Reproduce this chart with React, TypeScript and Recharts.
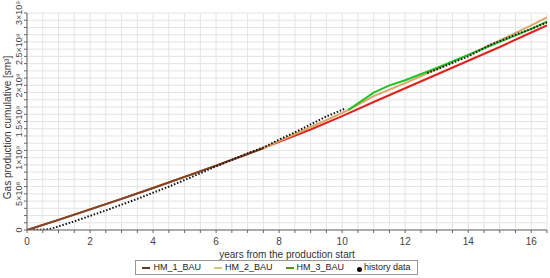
import { LineChart, Line, XAxis, YAxis, CartesianGrid, Legend } from 'recharts'

// reference run (red, drawn under HM_1)
const refYears = [0, 1, 2, 3, 4, 5, 6, 7, 8, 9, 10, 11, 12, 13, 14, 15, 16, 16.5]
const refValues = [0, 1.4e8, 2.85e8, 4.3e8, 5.8e8, 7.35e8, 8.9e8, 1.05e9, 1.22e9, 1.39e9, 1.575e9, 1.77e9, 1.96e9, 2.15e9, 2.34e9, 2.53e9, 2.73e9, 2.83e9]

const hm1Years = [0, 1, 2, 3, 4, 5, 6, 7, 7.5]
const hm1Values = [0, 1.4e8, 2.85e8, 4.3e8, 5.8e8, 7.35e8, 8.9e8, 1.05e9, 1.13e9]

const hm2Years = [7.5, 8, 9, 10, 10.2, 11, 12, 13, 14, 15, 16, 16.5]
const hm2Values = [1.13e9, 1.23e9, 1.42e9, 1.62e9, 1.66e9, 1.85e9, 2.03e9, 2.22e9, 2.42e9, 2.62e9, 2.83e9, 2.94e9]

const hm3Years = [10.2, 11, 11.5, 12, 13, 14, 15, 16, 16.5]
const hm3Values = [1.66e9, 1.9e9, 2.0e9, 2.07e9, 2.24e9, 2.42e9, 2.6e9, 2.78e9, 2.88e9]

const histYearsA = [0.2, 0.5, 0.7, 1, 1.5, 2, 2.5, 3, 3.5, 4, 4.5, 5, 5.5, 6, 6.5, 7, 7.5, 8, 8.5, 9, 9.5, 10, 10.1]
const histValuesA = [0, 0.05e8, 0.1e8, 0.5e8, 1.2e8, 1.95e8, 2.7e8, 3.5e8, 4.3e8, 5.15e8, 6.0e8, 6.9e8, 7.85e8, 8.8e8, 9.7e8, 1.06e9, 1.14e9, 1.25e9, 1.35e9, 1.46e9, 1.57e9, 1.66e9, 1.68e9]
const histYearsB = [12.7, 13, 13.5, 14, 14.7, 15, 15.5, 16, 16.5]
const histValuesB = [2.17e9, 2.22e9, 2.31e9, 2.4e9, 2.56e9, 2.61e9, 2.7e9, 2.78e9, 2.87e9]

const xLabels = [0, 2, 4, 6, 8, 10, 12, 14, 16]
const yLabels: Record<number, string> = {
  0: '0',
  500000000: '5×10⁸',
  1000000000: '1×10⁹',
  1500000000: '1.5×10⁹',
  2000000000: '2×10⁹',
  2500000000: '2.5×10⁹',
  3000000000: '3×10⁹',
}

const legendItems = [
  { name: 'HM_1_BAU', color: '#5b3a1c', dot: false },
  { name: 'HM_2_BAU', color: '#c9c77a', dot: false },
  { name: 'HM_3_BAU', color: '#4e9a1e', dot: false },
  { name: 'history data', color: '#000', dot: true },
]

const toPoints = (xs: number[], vs: number[]) => xs.map((t, i) => ({ t, v: vs[i] }))

const xGrid = Array.from({ length: 34 }, (_, i) => i * 0.5)
const yGrid = Array.from({ length: 31 }, (_, i) => i * 1e8)

const font = '"Liberation Sans", Arial, sans-serif'

function YTick({ x, y, payload }: any) {
  const label = yLabels[payload.value]
  if (!label) return null
  return (
    <text x={x} y={y} transform={`rotate(-90 ${x} ${y})`} textAnchor="middle" fontSize={9} fill="#444" fontFamily={font}>
      {label}
    </text>
  )
}

function XTick({ x, y, payload }: any) {
  if (!xLabels.includes(payload.value)) return null
  return (
    <text x={x} y={y + 10} textAnchor="middle" fontSize={10} fill="#444" fontFamily={font}>
      {payload.value}
    </text>
  )
}

function LegendBox() {
  return (
    <div style={{ display: 'flex', justifyContent: 'center' }}>
      <div style={{ display: 'flex', gap: 13, border: '1px solid #999', padding: '1px 6px', fontSize: 9, fontFamily: font, color: '#222', lineHeight: '11px', marginLeft: 6, marginTop: 2 }}>
        {legendItems.map((it) => (
          <span key={it.name} style={{ display: 'flex', alignItems: 'center' }}>
            {it.dot ? (
              <span style={{ width: 5, height: 5, borderRadius: 3, background: it.color, marginRight: 2, marginTop: 3 }} />
            ) : (
              <span style={{ width: 8, height: 2, background: it.color, marginRight: 3 }} />
            )}
            {it.name}
          </span>
        ))}
      </div>
    </div>
  )
}

export default function App() {
  return (
    <div style={{ position: 'absolute', left: 0, top: 0, background: '#fff' }}>
      <LineChart width={550} height={278} margin={{ top: 13, right: 3, left: 0, bottom: 0 }}>
        <CartesianGrid stroke="#e4e4e4" verticalValues={xGrid} horizontalValues={yGrid} />
        <XAxis
          type="number"
          dataKey="t"
          domain={[0, 16.5]}
          ticks={xGrid}
          interval={0}
          tick={<XTick />}
          tickSize={3}
          height={28}
          stroke="#666"
          allowDataOverflow
          label={{ value: 'years from the production start', position: 'insideBottom', offset: 0, fontSize: 10, fill: '#333', fontFamily: font }}
        />
        <YAxis
          type="number"
          domain={[0, 3e9]}
          ticks={yGrid}
          interval={0}
          tick={<YTick />}
          tickSize={3}
          width={27}
          stroke="#666"
          allowDataOverflow
          label={{ value: 'Gas production cumulative [sm³]', angle: -90, position: 'insideLeft', offset: 7, dy: 6, style: { textAnchor: 'middle' }, fontSize: 10, fill: '#333', fontFamily: font }}
        />
        <Legend verticalAlign="bottom" height={20} content={<LegendBox />} />
        <Line data={toPoints(refYears, refValues)} dataKey="v" stroke="#e3211c" strokeWidth={2} dot={false} isAnimationActive={false} legendType="none" />
        <Line data={toPoints(hm1Years, hm1Values)} dataKey="v" stroke="#7a4a24" strokeWidth={2} dot={false} isAnimationActive={false} />
        <Line data={toPoints(hm2Years, hm2Values)} dataKey="v" stroke="#d9a86a" strokeWidth={2} dot={false} isAnimationActive={false} />
        <Line data={toPoints(hm3Years, hm3Values)} dataKey="v" stroke="#22c322" strokeWidth={2} dot={false} isAnimationActive={false} />
        <Line data={toPoints(histYearsA, histValuesA)} dataKey="v" stroke="#111" strokeWidth={2} strokeDasharray="1.5 1.8" dot={false} isAnimationActive={false} />
        <Line data={toPoints(histYearsB, histValuesB)} dataKey="v" stroke="#111" strokeWidth={2} strokeDasharray="1.5 1.8" dot={false} isAnimationActive={false} legendType="none" />
      </LineChart>
    </div>
  )
}
